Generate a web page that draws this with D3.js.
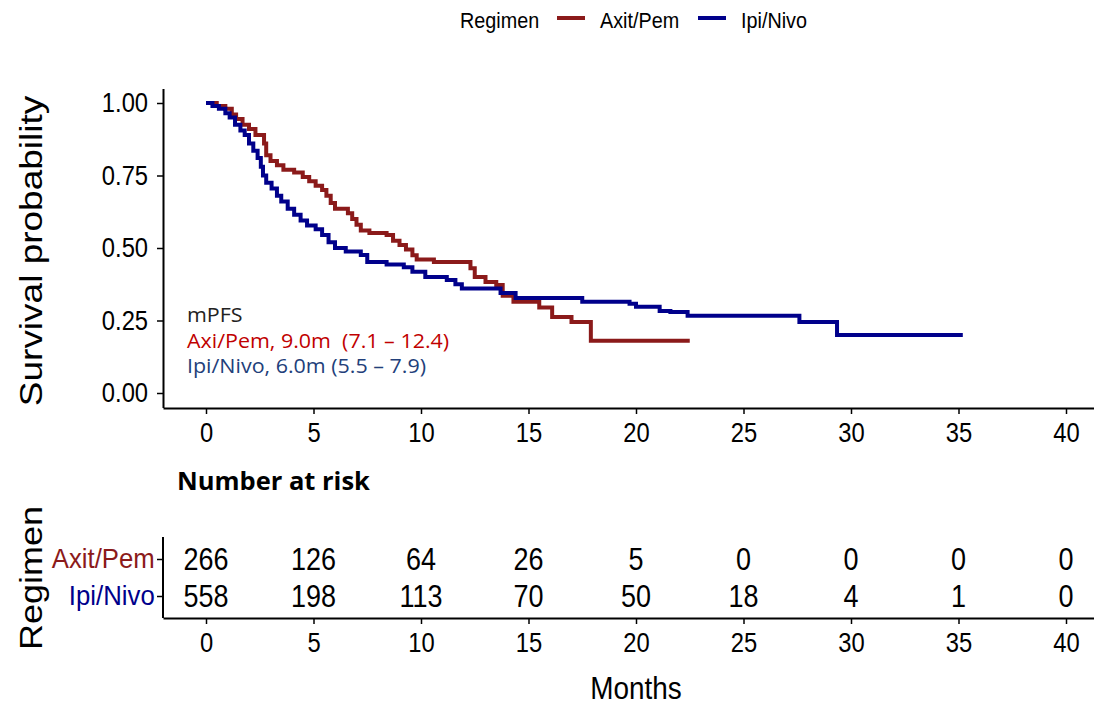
<!DOCTYPE html>
<html>
<head>
<meta charset="utf-8">
<script src="https://cdn.jsdelivr.net/npm/d3@7"></script>
<style>
    body { margin: 0; background: #fff; }
    svg { display: block; }
</style>
</head>
<body>
<script>
const width = 1094;
const height = 704;

// groups
const groups = ["Axit/Pem", "Ipi/Nivo"];
const groupColours = ["#8B1A1A", "#00008B"];

// Kaplan-Meier steps (months, survival)
const axitTime = [0, 0.5, 0.9, 1.2, 1.4, 1.7, 2.0, 2.3, 2.7, 2.8, 3.0, 3.3, 3.6, 4.1, 4.5, 4.8, 5.1, 5.4, 5.6, 5.8, 6.0, 6.6, 6.8, 7.0, 7.2, 7.6, 8.4, 8.7, 9.0, 9.3, 9.6, 9.8, 10.6, 12.3, 12.5, 13.0, 13.5, 13.8, 14.3, 15.5, 16.1, 17.0, 17.9, 22.5];
const axitSurv = [1.0, 0.99, 0.98, 0.96, 0.945, 0.925, 0.91, 0.89, 0.86, 0.82, 0.80, 0.785, 0.77, 0.76, 0.745, 0.73, 0.715, 0.70, 0.68, 0.655, 0.635, 0.62, 0.60, 0.58, 0.56, 0.552, 0.545, 0.525, 0.51, 0.495, 0.475, 0.46, 0.452, 0.43, 0.40, 0.383, 0.372, 0.335, 0.315, 0.295, 0.262, 0.245, 0.18, 0.18];

const ipiTime = [0, 0.3, 0.6, 0.9, 1.1, 1.35, 1.6, 1.8, 2.0, 2.2, 2.4, 2.55, 2.65, 2.8, 3.05, 3.3, 3.5, 3.8, 4.1, 4.4, 4.7, 5.1, 5.4, 5.7, 6.0, 6.5, 7.2, 7.5, 8.4, 9.2, 9.6, 10.2, 11.2, 11.6, 11.9, 13.7, 14.4, 17.5, 19.7, 20.0, 21.1, 21.6, 22.4, 27.6, 29.35, 35.2];
const ipiSurv = [1.0, 0.99, 0.98, 0.965, 0.95, 0.925, 0.905, 0.89, 0.86, 0.835, 0.81, 0.78, 0.75, 0.725, 0.705, 0.68, 0.66, 0.635, 0.615, 0.595, 0.578, 0.565, 0.545, 0.52, 0.50, 0.488, 0.476, 0.452, 0.443, 0.434, 0.418, 0.40, 0.39, 0.375, 0.36, 0.345, 0.328, 0.315, 0.308, 0.297, 0.283, 0.279, 0.266, 0.245, 0.20, 0.20];

// number at risk table
const riskTimes = [0, 5, 10, 15, 20, 25, 30, 35, 40];
const axitRisk = [266, 126, 64, 26, 5, 0, 0, 0, 0];
const ipiRisk = [558, 198, 113, 70, 50, 18, 4, 1, 0];

const xTicks = [0, 5, 10, 15, 20, 25, 30, 35, 40];
const yTicks = [0, 0.25, 0.5, 0.75, 1];

// median PFS annotation
const mpfsTitle = "mPFS";
const mpfsLines = ["Axi/Pem, 9.0m  (7.1 \u2013 12.4)", "Ipi/Nivo, 6.0m (5.5 \u2013 7.9)"];
const mpfsColours = ["#C00000", "#22407A"];

const font = "'Liberation Sans', Arial, sans-serif";
const annFont = "'Open Sans', Lato, sans-serif";
const sx = 0.9; // the original is a bit squeezed horizontally

const svg = d3
    .select("body")
    .append("svg")
    .attr("width", width)
    .attr("height", height);

function txt(sel, x, y, str, size, opts = {}) {
    return sel
        .append("text")
        .attr("transform", `translate(${x},${y}) scale(${opts.sx || sx},1)`)
        .attr("text-anchor", opts.anchor || "start")
        .attr("font-family", opts.family || font)
        .attr("font-size", size + "px")
        .attr("font-weight", opts.weight || "normal")
        .attr("fill", opts.fill || "#000")
        .style("white-space", "pre")
        .text(str);
}

// scales (ggplot style 5% expansion)
const x = d3.scaleLinear().domain([-2, 42]).range([163, 1109]);
const y = d3.scaleLinear().domain([-0.05, 1.05]).range([407.5, 88.5]);

// legend
const legend = svg.append("g");
txt(legend, 460, 28, "Regimen", 22, { sx: 0.9 });
let lx = 557;
groups.forEach((g, i) => {
    legend
        .append("line")
        .attr("x1", lx)
        .attr("x2", lx + 28)
        .attr("y1", 18)
        .attr("y2", 18)
        .attr("stroke", groupColours[i])
        .attr("stroke-width", 4);
    txt(legend, lx + 43, 28, g, 22, { sx: 0.9 });
    lx += 141;
});

// main panel axes
function styleAxis(g, size, s) {
    g.select(".domain").attr("stroke", "#000").attr("stroke-width", 2);
    g.selectAll(".tick line").attr("stroke", "#000").attr("stroke-width", 1.5);
    g.selectAll(".tick text")
        .attr("font-family", font)
        .attr("font-size", size + "px")
        .attr("fill", "#000")
        .attr("transform", `scale(${s || sx},1)`);
}

const yAxis = svg
    .append("g")
    .attr("transform", "translate(163,0)")
    .call(
        d3.axisLeft(y).tickValues(yTicks).tickFormat(d3.format(".2f")).tickSize(6).tickSizeOuter(0).tickPadding(11)
    );
styleAxis(yAxis, 27, 0.88);

const xAxis = svg
    .append("g")
    .attr("transform", "translate(0,408)")
    .call(d3.axisBottom(x).tickValues(xTicks).tickSize(6).tickSizeOuter(0).tickPadding(9));
styleAxis(xAxis, 27, 0.88);

svg.append("text")
    .attr("transform", "translate(42,251) rotate(-90) scale(1,0.87)")
    .attr("text-anchor", "middle")
    .attr("font-family", font)
    .attr("font-size", "37px")
    .text("Survival probability");

// curves
const line = d3
    .line()
    .x((d) => x(d[0]))
    .y((d) => y(d[1]))
    .curve(d3.curveStepAfter);

const series = [
    d3.zip(axitTime, axitSurv),
    d3.zip(ipiTime, ipiSurv),
];

svg.selectAll(".km")
    .data(series)
    .enter()
    .append("path")
    .attr("class", "km")
    .attr("d", line)
    .attr("fill", "none")
    .attr("stroke", (d, i) => groupColours[i])
    .attr("stroke-width", 4);

// mPFS annotation
const ann = svg.append("g");
txt(ann, 187, 322, mpfsTitle, 19.5, { family: annFont, fill: "#222", sx: 1.1 });
mpfsLines.forEach((s, i) => {
    txt(ann, 187, 348 + i * 25, s, 19.5, { family: annFont, fill: mpfsColours[i], sx: 1.1 });
});

// number at risk table
txt(svg, 177, 490, "Number at risk", 25.5, { family: annFont, weight: "bold", sx: 1 });

const yRisk = d3.scalePoint().domain(groups).range([559, 596]);

const tAxisY = svg
    .append("g")
    .attr("transform", "translate(163,0)")
    .call(d3.axisLeft(yRisk).tickSize(6).tickSizeOuter(0).tickPadding(3));
tAxisY.select(".domain").attr("d", "M0,537V618");
styleAxis(tAxisY, 28, 0.92);
tAxisY.selectAll(".tick text").attr("fill", (d, i) => groupColours[i]);

const tAxisX = svg
    .append("g")
    .attr("transform", "translate(0,618)")
    .call(d3.axisBottom(x).tickValues(xTicks).tickSize(6).tickSizeOuter(0).tickPadding(9));
styleAxis(tAxisX, 27, 0.88);

const riskRows = [axitRisk, ipiRisk];
riskRows.forEach((row, r) => {
    row.forEach((n, i) => {
        txt(svg, x(riskTimes[i]), yRisk(groups[r]) + 11, String(n), 31, { anchor: "middle", sx: 0.87 });
    });
});

svg.append("text")
    .attr("transform", "translate(42,578) rotate(-90) scale(1,0.87)")
    .attr("text-anchor", "middle")
    .attr("font-family", font)
    .attr("font-size", "36px")
    .text("Regimen");

txt(svg, 636, 699, "Months", 31, { anchor: "middle" });
</script>
</body>
</html>
